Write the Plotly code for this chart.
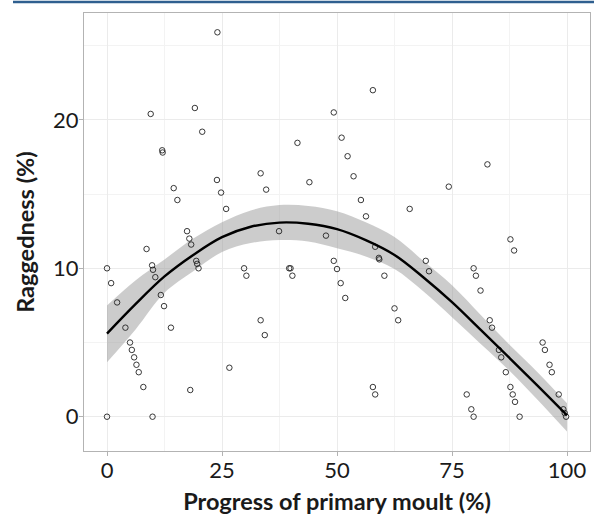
import plotly.graph_objects as go

# Scatter data: progress of primary moult (%) vs raggedness (%)
moult_x = [24.0, 9.5, 19.1, 20.7, 12.0, 12.1, 33.4, 14.5, 23.9, 34.6, 15.3, 24.8, 25.9,
           57.8, 49.3, 41.4, 51.0, 52.3, 53.6, 44.0, 74.3, 55.2, 65.8, 56.3,
           37.4, 17.4, 17.9, 18.3, 8.6, 19.4, 19.6, 19.9, 9.8, 10.0, 10.5, 0.0, 0.9, 2.2,
           29.8, 30.3, 11.7, 12.4, 4.0, 13.9, 33.4, 34.3, 5.0, 5.4, 5.9, 6.4, 6.9, 7.9,
           26.6, 18.1, 0.0, 9.9, 39.6,
           47.6, 58.3, 59.1, 59.2, 49.3, 69.3, 70.0, 50.0, 39.9, 40.3, 50.8, 60.3, 51.8,
           62.5, 63.3, 79.7, 80.2, 57.8, 58.3, 78.2, 79.2, 79.7,
           82.7, 87.7, 88.5, 81.2, 83.2, 83.7, 85.2, 85.7, 86.7, 87.7, 88.2, 88.7, 89.7,
           94.7, 95.2, 96.2, 96.7, 98.2, 99.2, 99.5, 99.8]
ragged_y = [25.9, 20.4, 20.8, 19.2, 17.95, 17.8, 16.4, 15.4, 15.95, 15.3, 14.6, 15.1, 14.0,
            22.0, 20.5, 18.45, 18.8, 17.55, 16.2, 15.8, 15.5, 14.6, 14.0, 13.5,
            12.5, 12.5, 12.0, 11.6, 11.3, 10.5, 10.3, 10.0, 10.2, 9.9, 9.4, 10.0, 9.0, 7.7,
            10.0, 9.5, 8.2, 7.45, 6.0, 6.0, 6.5, 5.5, 5.0, 4.5, 4.0, 3.5, 3.0, 2.0,
            3.3, 1.8, 0.0, 0.0, 10.0,
            12.2, 11.45, 10.7, 10.6, 10.5, 10.5, 9.8, 9.95, 10.0, 9.5, 9.0, 9.5, 8.0,
            7.3, 6.5, 10.0, 9.5, 2.0, 1.5, 1.5, 0.5, 0.0,
            17.0, 11.95, 11.2, 8.5, 6.5, 6.0, 4.5, 4.0, 3.0, 2.0, 1.5, 1.0, 0.0,
            5.0, 4.5, 3.5, 3.0, 1.5, 0.5, 0.25, 0.0]

# Smoothed fit and its confidence band
fit_x = [0, 6.25, 12.5, 18.75, 25, 31.25, 37.5, 43.75, 50, 56.25, 62.5, 68.75, 75, 81.25, 87.5, 93.75, 100]
fit_y = [5.6, 7.6, 9.45, 10.9, 12.1, 12.8, 13.08, 13.0, 12.64, 11.9, 10.9, 9.4, 7.72, 5.85, 3.96, 2.05, 0.1]
fit_lo = [3.67, 5.9, 8.35, 9.8, 11.1, 11.7, 11.9, 11.8, 11.35, 10.8, 9.95, 8.45, 6.7, 4.9, 3.1, 1.1, -1.0]
fit_hi = [7.5, 9.2, 10.6, 12.0, 13.1, 13.9, 14.26, 14.2, 13.85, 13.1, 12.1, 10.5, 8.85, 6.85, 4.85, 2.95, 0.9]

x_ticks = [0, 25, 50, 75, 100]
y_ticks = [0, 10, 20]

FONT = "Lato"
TXT = "#1a1a1a"
fig = go.Figure()
fig.add_trace(go.Scatter(x=fit_x, y=fit_hi, mode="lines", line=dict(width=0, shape="spline"),
                         hoverinfo="skip", showlegend=False))
fig.add_trace(go.Scatter(x=fit_x, y=fit_lo, mode="lines", line=dict(width=0, shape="spline"),
                         fill="tonexty", fillcolor="rgba(153,153,153,0.5)",
                         hoverinfo="skip", showlegend=False))
fig.add_trace(go.Scatter(x=moult_x, y=ragged_y, mode="markers",
                         marker=dict(symbol="circle-open", size=5.5, color="#222",
                                     line=dict(width=0.9, color="#222")),
                         showlegend=False))
fig.add_trace(go.Scatter(x=fit_x, y=fit_y, mode="lines",
                         line=dict(color="black", width=2.4, shape="spline"),
                         showlegend=False))

axis_common = dict(
    showgrid=True, gridcolor="#ebebeb", gridwidth=1,
    zeroline=False, showline=True, linecolor="#b3b3b3", linewidth=1.2, mirror=True,
    ticks="outside", ticklen=4, tickcolor="#b3b3b3", tickwidth=1,
    tickfont=dict(family=FONT, size=22, color=TXT),
)
fig.update_xaxes(range=[-5, 105], tickvals=x_ticks, ticktext=[str(v) for v in x_ticks],
                 ticklabelstandoff=-5,
                 minor=dict(showgrid=True, gridcolor="#f3f3f3", tickvals=[12.5, 37.5, 62.5, 87.5]),
                 title=dict(text="<b>Progress of primary moult (%)</b>", standoff=12,
                            font=dict(family=FONT, size=23.5, color=TXT)),
                 **axis_common)
fig.update_yaxes(range=[-2.31, 27.2], tickvals=y_ticks, ticktext=[str(v) for v in y_ticks],
                 ticklabelstandoff=-4,
                 minor=dict(showgrid=True, gridcolor="#f3f3f3", tickvals=[5, 15, 25]),
                 title=dict(text="<b>Raggedness (%)</b>", standoff=11,
                            font=dict(family=FONT, size=23.5, color=TXT)),
                 **axis_common)

fig.add_shape(type="line", xref="paper", yref="paper",
              x0=(13 - 84) / 506, x1=(594 - 84) / 506,
              y0=1 + (13 - 2) / 438, y1=1 + (13 - 2) / 438,
              line=dict(color="#2f5f8f", width=2.5))

fig.update_layout(width=594, height=516, margin=dict(l=84, r=4, t=13, b=65),
                  plot_bgcolor="white", paper_bgcolor="white",
                  font=dict(family=FONT))
fig.write_html("out.html")
